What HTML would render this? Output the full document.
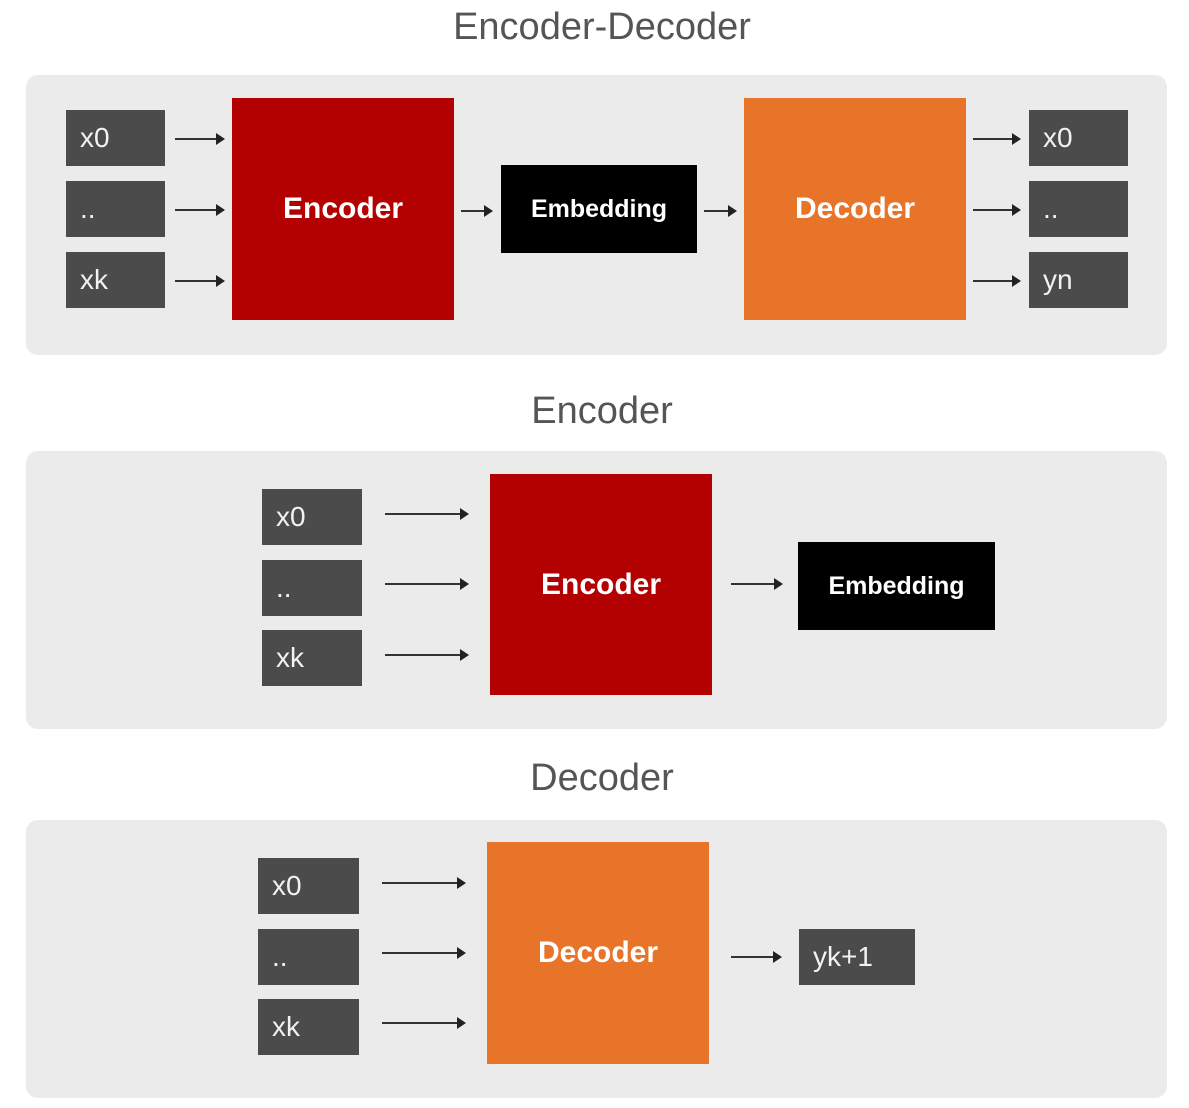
<!DOCTYPE html>
<html><head><meta charset="utf-8"><style>
body{margin:0;width:1189px;height:1108px;background:#fff;position:relative;overflow:hidden;font-family:"Liberation Sans",sans-serif}
.a{position:absolute}
.title{position:absolute;left:0;width:1204px;text-align:center;color:#555;font-size:38px}
.panel{position:absolute;left:26px;width:1141px;background:#ebebeb;border-radius:12px}
.tok{position:absolute;background:#4b4b4b;color:#f2f2f2;font-size:28px;display:flex;align-items:center;padding-left:14px;box-sizing:border-box}
.blk{position:absolute;display:flex;align-items:center;justify-content:center;color:#fff;font-weight:bold}
.arr{position:absolute;height:2px;background:#333}
.arr:after{content:"";position:absolute;right:-2px;top:-5px;border-left:9px solid #222;border-top:6px solid transparent;border-bottom:6px solid transparent}
</style></head><body>
<div class="title" style="top:6px">Encoder-Decoder</div>
<div class="panel" style="top:75px;height:280px"></div>
<div class="tok" style="left:66px;top:110px;width:99px;height:56px">x0</div>
<div class="tok" style="left:66px;top:181px;width:99px;height:56px">..</div>
<div class="tok" style="left:66px;top:252px;width:99px;height:56px">xk</div>
<div class="arr" style="left:175px;top:138px;width:48px"></div>
<div class="arr" style="left:175px;top:209px;width:48px"></div>
<div class="arr" style="left:175px;top:280px;width:48px"></div>
<div class="blk" style="left:232px;top:98px;width:222px;height:222px;background:#b30000;font-size:30px">Encoder</div>
<div class="arr" style="left:461px;top:210px;width:30px"></div>
<div class="blk" style="left:501px;top:165px;width:196px;height:88px;background:#000;font-size:25px">Embedding</div>
<div class="arr" style="left:704px;top:210px;width:31px"></div>
<div class="blk" style="left:744px;top:98px;width:222px;height:222px;background:#e8742a;font-size:30px">Decoder</div>
<div class="arr" style="left:973px;top:138px;width:46px"></div>
<div class="arr" style="left:973px;top:209px;width:46px"></div>
<div class="arr" style="left:973px;top:280px;width:46px"></div>
<div class="tok" style="left:1029px;top:110px;width:99px;height:56px">x0</div>
<div class="tok" style="left:1029px;top:181px;width:99px;height:56px">..</div>
<div class="tok" style="left:1029px;top:252px;width:99px;height:56px">yn</div>

<div class="title" style="top:390px">Encoder</div>
<div class="panel" style="top:451px;height:278px"></div>
<div class="tok" style="left:262px;top:489px;width:100px;height:56px">x0</div>
<div class="tok" style="left:262px;top:560px;width:100px;height:56px">..</div>
<div class="tok" style="left:262px;top:630px;width:100px;height:56px">xk</div>
<div class="arr" style="left:385px;top:513px;width:82px"></div>
<div class="arr" style="left:385px;top:583px;width:82px"></div>
<div class="arr" style="left:385px;top:654px;width:82px"></div>
<div class="blk" style="left:490px;top:474px;width:222px;height:221px;background:#b30000;font-size:30px">Encoder</div>
<div class="arr" style="left:731px;top:583px;width:50px"></div>
<div class="blk" style="left:798px;top:542px;width:197px;height:88px;background:#000;font-size:25px">Embedding</div>

<div class="title" style="top:757px">Decoder</div>
<div class="panel" style="top:820px;height:278px"></div>
<div class="tok" style="left:258px;top:858px;width:101px;height:56px">x0</div>
<div class="tok" style="left:258px;top:929px;width:101px;height:56px">..</div>
<div class="tok" style="left:258px;top:999px;width:101px;height:56px">xk</div>
<div class="arr" style="left:382px;top:882px;width:82px"></div>
<div class="arr" style="left:382px;top:952px;width:82px"></div>
<div class="arr" style="left:382px;top:1022px;width:82px"></div>
<div class="blk" style="left:487px;top:842px;width:222px;height:222px;background:#e8742a;font-size:30px">Decoder</div>
<div class="arr" style="left:731px;top:956px;width:49px"></div>
<div class="tok" style="left:799px;top:929px;width:116px;height:56px">yk+1</div>
</body></html>
